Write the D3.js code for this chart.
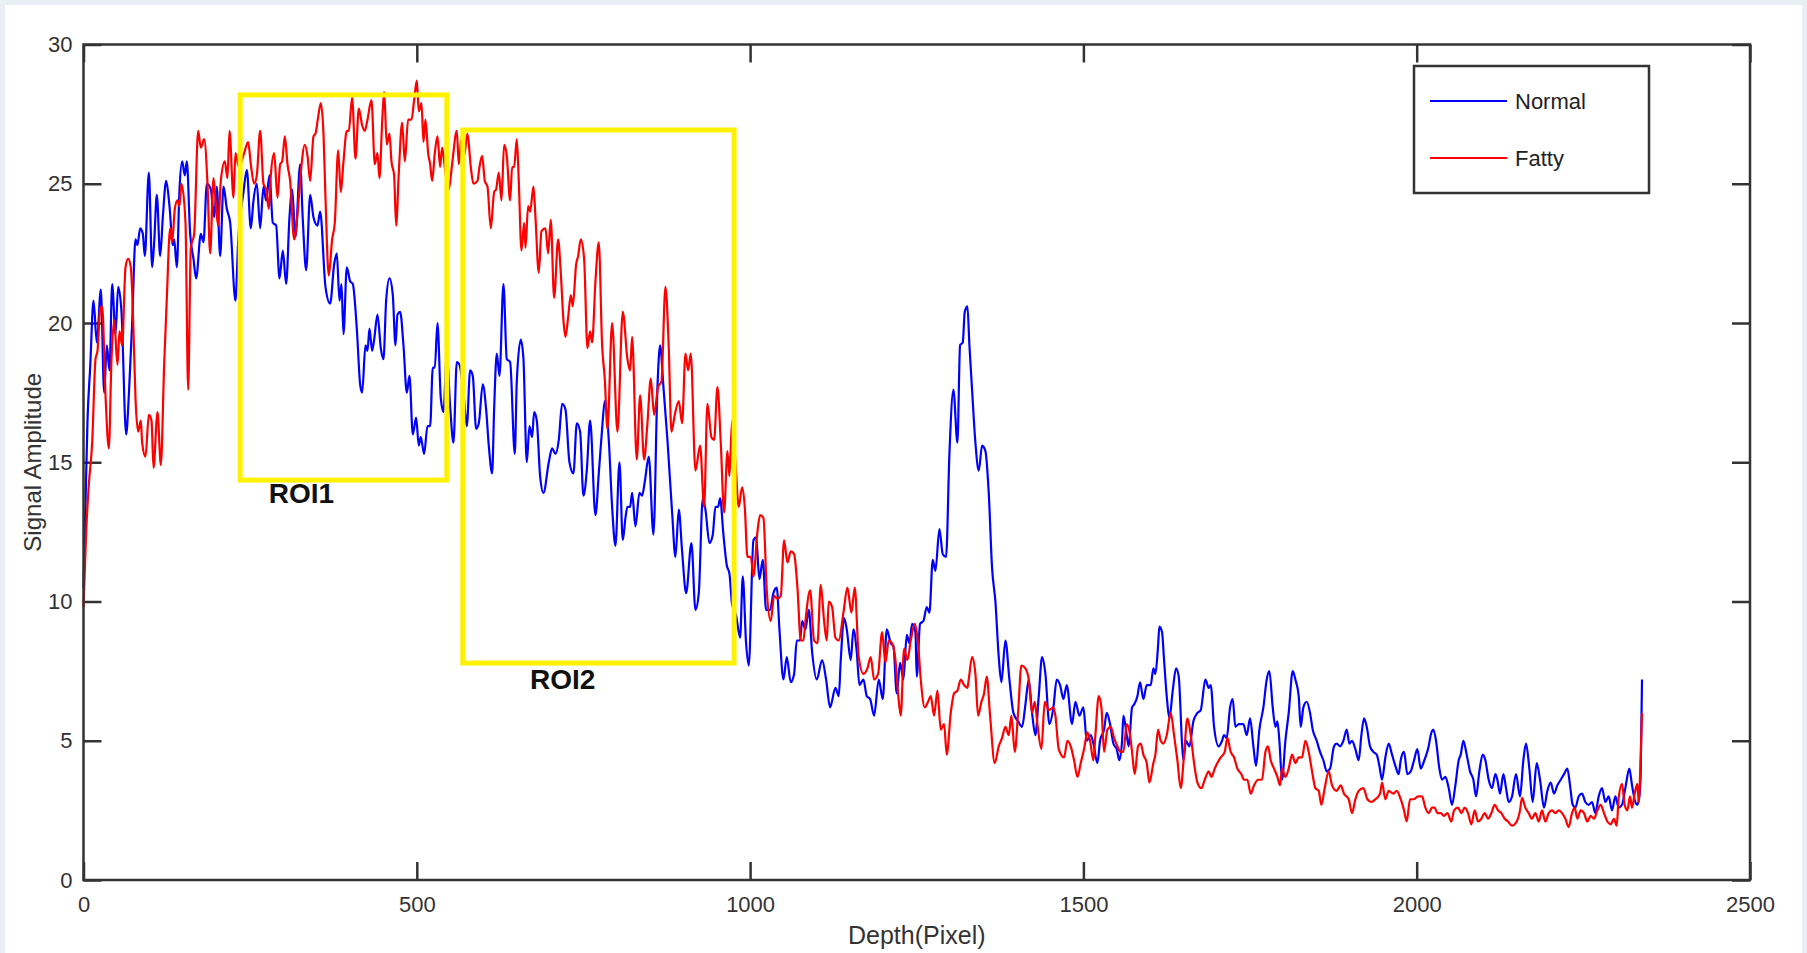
<!DOCTYPE html>
<html>
<head>
<meta charset="utf-8">
<title>Signal Amplitude vs Depth</title>
<script src="https://cdn.jsdelivr.net/npm/d3@7"></script>
<style>
    body { margin: 0; background: #fff; }
    #chart-area { width: 1807px; height: 953px; }
    .tick text { font-family: "Liberation Sans", Arial, sans-serif; font-size: 22px; fill: #333; }
    .axis-title { font-family: "Liberation Sans", Arial, sans-serif; fill: #333; }
    .legend-text { font-family: "Liberation Sans", Arial, sans-serif; font-size: 22px; fill: #222; }
    .roi-label { font-family: "Liberation Sans", Arial, sans-serif; font-size: 28px; font-weight: bold; fill: #111; }
</style>
</head>
<body>
<div id="chart-area"></div>
<script>

// axis ticks
const xTicks = [0, 500, 1000, 1500, 2000, 2500];
const yTicks = [0, 5, 10, 15, 20, 25, 30];

// series, [depth, amplitude]
const seriesNames = ["Normal", "Fatty"];

const normalSignal = [[0,10.5],[3,13.5],[6,16.5],[10,18.4],[15,20.8],[20,19.3],[26,21.2],[31,17.5],[35,19.2],[39,18.3],[43,21.4],[48,19.6],[52,21.3],[57,20.4],[64,16.0],[68,17.4],[73,20.0],[78,23.0],[81,22.8],[85,23.4],[89,23.2],[92,22.4],[98,25.4],[103,22.0],[106,22.9],[110,24.6],[115,22.4],[119,23.8],[124,25.1],[129,24.2],[134,22.8],[136,23.0],[140,22.0],[144,24.8],[148,25.8],[152,25.3],[155,25.8],[160,23.2],[165,22.3],[169,21.6],[176,23.2],[180,22.9],[185,25.0],[191,24.8],[196,23.8],[200,24.9],[205,22.4],[210,24.9],[215,24.1],[220,23.6],[228,20.8],[232,22.9],[240,24.7],[245,25.5],[251,23.4],[255,24.4],[260,25.0],[265,23.4],[270,24.9],[274,24.4],[279,25.3],[284,23.6],[289,23.5],[294,21.6],[299,22.6],[304,21.4],[309,23.8],[313,24.8],[318,23.1],[325,25.7],[329,23.7],[334,21.9],[340,24.6],[345,23.8],[351,23.5],[355,24.0],[363,21.3],[370,20.7],[376,22.1],[380,22.5],[384,20.8],[387,21.4],[390,19.6],[395,22.0],[400,21.5],[404,21.4],[410,19.8],[415,17.8],[418,17.5],[423,19.2],[426,19.0],[429,19.8],[433,19.0],[436,19.4],[441,20.3],[446,19.1],[450,18.7],[454,20.8],[459,21.6],[464,21.0],[468,19.2],[471,20.3],[475,20.4],[480,19.2],[485,17.5],[489,18.1],[494,16.0],[499,16.6],[503,15.6],[506,15.9],[511,15.3],[516,16.3],[520,16.3],[524,18.4],[527,18.4],[531,20.0],[536,17.3],[540,16.8],[545,18.9],[550,17.0],[555,15.7],[560,18.6],[564,18.5],[570,17.5],[575,16.3],[580,18.3],[584,18.1],[589,16.2],[593,16.4],[599,17.8],[604,16.9],[608,15.6],[613,14.6],[616,16.9],[620,18.9],[624,18.1],[630,21.4],[635,18.7],[640,18.6],[647,15.3],[650,17.9],[656,19.4],[660,18.7],[665,15.0],[669,16.3],[673,15.9],[676,16.8],[680,16.5],[685,14.5],[690,13.9],[698,15.0],[703,15.5],[708,15.3],[713,15.8],[718,17.1],[723,16.9],[729,15.0],[735,14.6],[740,16.4],[745,16.1],[750,13.8],[755,14.7],[760,16.5],[768,13.1],[773,14.6],[778,16.2],[782,17.2],[788,15.8],[793,13.4],[798,12.0],[804,15.0],[809,12.2],[813,13.0],[816,13.4],[820,13.4],[823,13.9],[828,12.7],[834,13.9],[838,13.8],[842,14.3],[848,15.2],[855,12.4],[861,17.7],[865,19.2],[870,17.7],[876,15.8],[883,13.2],[888,11.6],[893,13.3],[898,11.8],[904,10.3],[912,12.1],[918,9.7],[923,10.3],[929,13.7],[933,13.3],[939,12.1],[944,12.4],[948,13.4],[952,13.4],[955,13.7],[960,12.4],[965,11.3],[969,11.0],[973,9.9],[979,9.5],[985,8.7],[989,10.9],[994,8.5],[998,7.7],[1005,12.2],[1009,12.3],[1014,10.8],[1019,11.5],[1024,9.7],[1030,9.7],[1035,10.3],[1040,10.5],[1044,9.0],[1050,7.2],[1055,8.0],[1061,7.1],[1066,7.4],[1070,8.6],[1075,8.6],[1078,9.3],[1083,9.0],[1088,9.7],[1093,8.2],[1100,7.2],[1108,7.9],[1114,7.2],[1120,6.2],[1128,6.9],[1133,6.6],[1136,7.9],[1141,9.4],[1145,9.0],[1151,7.9],[1155,9.0],[1160,8.2],[1164,7.0],[1170,7.2],[1175,6.6],[1180,6.5],[1186,5.9],[1193,7.2],[1199,6.5],[1205,9.0],[1211,8.5],[1215,8.4],[1220,6.7],[1225,7.8],[1230,7.2],[1235,8.8],[1239,8.5],[1243,9.2],[1248,8.9],[1250,7.3],[1255,9.2],[1260,9.3],[1265,9.8],[1269,9.6],[1274,11.5],[1278,11.1],[1284,12.6],[1289,11.7],[1294,11.6],[1299,15.3],[1305,17.6],[1311,15.7],[1315,19.2],[1319,19.3],[1322,20.4],[1326,20.6],[1329,19.2],[1333,17.6],[1338,15.7],[1343,14.7],[1348,15.6],[1353,15.4],[1358,13.9],[1363,11.2],[1368,10.0],[1373,8.0],[1377,7.1],[1383,8.6],[1389,7.2],[1395,6.0],[1402,5.7],[1408,5.5],[1413,6.3],[1418,7.2],[1423,6.0],[1428,5.2],[1433,6.6],[1438,8.0],[1443,7.4],[1449,5.6],[1455,6.2],[1460,7.2],[1465,7.0],[1470,6.5],[1475,7.0],[1483,5.6],[1488,6.4],[1494,5.9],[1500,6.2],[1505,5.0],[1511,5.2],[1515,4.9],[1521,4.2],[1525,5.0],[1531,5.4],[1535,6.0],[1540,5.6],[1545,4.9],[1550,4.7],[1554,4.3],[1558,5.0],[1560,5.9],[1565,5.2],[1568,4.8],[1573,6.2],[1576,6.3],[1581,6.6],[1585,7.1],[1590,6.5],[1595,7.0],[1601,7.0],[1605,7.6],[1608,7.4],[1612,8.4],[1614,9.1],[1618,8.9],[1621,7.9],[1625,6.6],[1629,5.8],[1634,6.8],[1639,7.6],[1643,7.3],[1648,4.9],[1650,4.3],[1654,5.0],[1659,4.8],[1665,5.7],[1671,6.0],[1676,6.1],[1683,7.2],[1688,6.9],[1691,7.0],[1696,5.5],[1703,4.8],[1708,5.0],[1711,5.2],[1715,5.1],[1720,6.2],[1724,6.5],[1728,5.5],[1733,5.6],[1740,5.6],[1745,5.2],[1750,5.8],[1755,4.8],[1759,4.1],[1764,5.4],[1770,6.2],[1775,7.2],[1779,7.5],[1784,6.2],[1788,5.5],[1791,5.7],[1794,5.0],[1798,3.6],[1803,5.0],[1808,6.0],[1814,7.5],[1818,7.2],[1823,6.6],[1826,5.5],[1830,6.2],[1835,6.4],[1840,6.0],[1844,5.4],[1850,5.0],[1855,4.6],[1860,4.3],[1865,3.9],[1870,4.0],[1876,4.8],[1880,4.9],[1885,4.8],[1890,5.0],[1895,5.4],[1899,4.9],[1903,5.0],[1908,4.7],[1913,4.3],[1917,5.2],[1921,5.8],[1925,5.5],[1930,4.8],[1935,4.6],[1940,4.5],[1944,4.1],[1948,3.6],[1953,4.4],[1958,4.9],[1963,4.5],[1968,4.1],[1973,3.8],[1976,4.3],[1981,4.6],[1986,3.8],[1991,3.9],[1996,4.3],[2001,4.7],[2006,4.0],[2010,4.2],[2013,4.4],[2018,4.8],[2021,5.2],[2025,5.4],[2029,5.0],[2034,4.0],[2038,3.6],[2043,3.7],[2048,3.3],[2053,2.7],[2058,3.4],[2063,4.3],[2066,4.5],[2070,5.0],[2075,4.5],[2080,3.9],[2085,3.6],[2089,3.0],[2094,3.9],[2099,4.5],[2103,4.3],[2108,3.6],[2113,3.3],[2118,3.8],[2121,3.6],[2125,3.1],[2130,3.8],[2134,3.3],[2138,2.8],[2143,3.0],[2149,3.8],[2155,3.0],[2160,4.3],[2164,4.9],[2169,4.0],[2174,2.8],[2180,4.2],[2185,3.6],[2191,2.6],[2196,3.2],[2201,3.5],[2206,3.1],[2211,3.4],[2216,3.6],[2221,3.8],[2226,4.0],[2230,3.4],[2234,2.7],[2238,2.6],[2243,3.0],[2248,3.1],[2253,2.8],[2258,2.7],[2263,2.8],[2268,2.4],[2273,3.0],[2278,3.3],[2283,2.8],[2288,3.0],[2293,2.5],[2298,3.0],[2303,2.6],[2308,2.7],[2313,3.3],[2319,4.0],[2323,3.4],[2328,2.8],[2331,2.7],[2334,3.0],[2336,3.8],[2338,7.2]];

const fattySignal = [[0,9.8],[4,12.5],[8,14.2],[13,15.7],[18,18.7],[21,19.0],[25,20.5],[28,20.6],[33,17.4],[38,15.5],[42,18.7],[46,20.1],[51,18.5],[54,19.7],[58,19.2],[63,22.0],[67,22.3],[71,22.0],[75,19.7],[78,17.3],[82,16.1],[86,16.5],[88,15.7],[93,15.2],[98,16.7],[102,16.5],[105,14.8],[111,16.8],[116,14.9],[121,18.5],[125,20.9],[130,23.4],[133,22.9],[137,24.1],[141,24.4],[144,24.2],[147,25.0],[153,23.6],[157,17.6],[161,22.7],[166,23.2],[172,26.9],[176,26.3],[181,26.6],[186,25.0],[190,22.5],[195,25.2],[198,24.4],[202,23.5],[206,25.1],[212,25.8],[216,25.2],[219,26.9],[225,24.5],[228,26.1],[233,25.6],[241,26.1],[247,26.5],[251,25.7],[256,25.0],[260,25.3],[265,26.9],[270,25.0],[274,24.8],[278,24.1],[281,25.3],[286,26.1],[291,24.5],[295,25.7],[298,25.8],[302,26.7],[306,25.7],[310,25.1],[316,23.0],[321,23.9],[326,25.4],[332,26.4],[336,26.0],[340,25.1],[345,26.7],[348,26.8],[352,27.4],[356,27.9],[360,26.8],[363,24.5],[368,21.7],[373,23.0],[377,23.6],[382,26.2],[386,24.7],[390,25.8],[395,26.9],[398,26.9],[403,28.1],[408,25.9],[413,27.7],[418,27.1],[422,26.9],[426,27.3],[432,28.0],[437,25.7],[441,26.1],[444,25.2],[448,27.2],[451,28.3],[455,26.4],[459,26.8],[462,25.8],[466,25.3],[469,23.5],[473,25.4],[478,27.2],[482,25.8],[487,27.3],[492,27.3],[496,28.0],[500,28.7],[503,27.6],[507,27.9],[510,26.5],[513,27.3],[517,26.1],[520,25.7],[523,25.1],[527,26.1],[531,26.7],[535,25.6],[538,26.3],[543,25.4],[548,24.8],[553,25.7],[560,26.9],[563,25.7],[567,26.6],[571,26.0],[576,26.8],[581,25.6],[585,25.0],[591,25.1],[594,25.6],[598,26.0],[602,25.1],[606,24.9],[611,23.4],[616,24.7],[619,24.8],[623,25.4],[627,24.4],[631,26.4],[635,26.0],[640,24.4],[643,25.6],[646,25.6],[650,26.6],[653,25.1],[657,22.6],[661,23.6],[663,22.7],[667,24.2],[670,24.0],[675,24.9],[678,23.8],[683,21.8],[687,23.3],[693,23.4],[697,22.5],[701,23.7],[706,20.9],[712,23.0],[716,21.8],[720,20.1],[723,19.5],[727,20.2],[731,21.0],[734,20.6],[739,22.1],[742,22.4],[746,23.0],[751,22.3],[756,19.1],[760,19.7],[763,19.3],[768,21.5],[773,22.9],[778,19.2],[782,18.0],[786,16.2],[793,20.0],[801,16.1],[809,20.4],[816,18.7],[820,18.3],[823,19.5],[830,15.1],[835,17.4],[841,15.1],[846,16.4],[851,18.0],[856,16.7],[862,17.7],[867,17.9],[873,21.3],[878,19.1],[882,16.1],[887,16.7],[893,17.2],[898,16.4],[903,18.9],[907,18.3],[911,18.9],[918,14.7],[925,15.6],[931,13.4],[936,17.1],[942,15.9],[946,15.8],[951,17.7],[956,15.7],[961,13.2],[966,15.4],[969,14.5],[973,16.5],[978,15.0],[983,13.4],[988,14.1],[992,13.4],[996,11.6],[1001,11.6],[1005,10.9],[1011,12.5],[1015,13.1],[1020,13.0],[1025,10.4],[1031,9.3],[1036,10.2],[1041,10.1],[1046,10.2],[1051,12.2],[1056,11.4],[1061,11.8],[1066,11.7],[1071,10.5],[1076,8.6],[1080,8.6],[1083,9.3],[1090,10.4],[1096,8.6],[1101,8.5],[1106,10.6],[1111,9.3],[1115,8.6],[1118,10.0],[1123,9.8],[1128,8.7],[1133,8.6],[1140,9.6],[1146,10.5],[1152,9.6],[1157,10.5],[1163,8.0],[1170,7.4],[1176,7.6],[1181,8.0],[1186,7.2],[1192,7.4],[1198,8.9],[1203,7.8],[1208,8.6],[1213,8.5],[1218,7.9],[1222,6.7],[1226,5.9],[1231,8.3],[1236,7.9],[1241,8.6],[1247,9.2],[1252,8.5],[1256,7.2],[1262,6.2],[1267,6.4],[1271,6.6],[1276,5.9],[1281,6.8],[1286,5.4],[1291,5.6],[1295,4.5],[1301,6.0],[1306,6.7],[1311,6.8],[1316,7.2],[1321,7.0],[1326,6.9],[1328,7.2],[1333,8.0],[1338,7.4],[1342,5.9],[1347,6.4],[1351,6.7],[1355,7.3],[1360,5.9],[1367,4.2],[1373,4.8],[1378,5.1],[1383,5.5],[1388,5.2],[1392,5.9],[1397,4.6],[1402,6.0],[1407,7.7],[1413,7.6],[1418,7.2],[1423,6.0],[1427,6.4],[1431,5.6],[1437,4.7],[1442,6.4],[1448,6.1],[1455,6.2],[1458,5.9],[1463,4.7],[1471,4.4],[1476,5.0],[1481,4.8],[1486,4.3],[1491,3.7],[1496,4.2],[1501,4.7],[1506,5.3],[1510,5.0],[1515,4.3],[1518,5.2],[1523,6.6],[1527,6.2],[1531,4.6],[1536,5.4],[1541,5.5],[1546,5.1],[1551,4.8],[1556,4.6],[1560,4.6],[1565,5.6],[1570,5.2],[1573,4.6],[1577,3.8],[1582,4.8],[1586,4.9],[1590,4.5],[1595,4.2],[1599,3.5],[1605,4.2],[1608,4.5],[1612,5.4],[1616,5.0],[1620,4.9],[1625,5.2],[1631,6.0],[1636,5.2],[1641,4.3],[1646,3.3],[1651,4.5],[1656,5.8],[1661,5.2],[1666,4.2],[1671,3.5],[1677,3.3],[1682,3.6],[1688,3.9],[1692,3.7],[1697,4.0],[1701,4.2],[1706,4.4],[1712,4.6],[1716,5.1],[1721,4.6],[1726,4.4],[1731,4.0],[1737,3.8],[1741,3.6],[1746,3.6],[1751,3.1],[1756,3.4],[1762,3.6],[1768,3.6],[1773,4.6],[1777,4.8],[1781,4.3],[1786,4.0],[1791,3.7],[1795,3.4],[1798,4.0],[1803,3.7],[1808,4.0],[1813,4.5],[1818,4.2],[1823,4.4],[1828,4.4],[1833,5.0],[1838,4.6],[1843,3.9],[1848,3.3],[1853,3.2],[1857,2.7],[1862,3.3],[1868,3.9],[1873,3.4],[1880,3.2],[1886,3.4],[1891,3.1],[1898,2.9],[1903,2.4],[1908,2.9],[1913,3.2],[1920,3.3],[1926,2.9],[1932,2.8],[1938,2.9],[1945,3.1],[1948,3.5],[1953,2.9],[1958,3.2],[1965,3.1],[1970,3.2],[1976,2.9],[1981,2.5],[1985,2.1],[1990,2.9],[1996,2.9],[2002,3.0],[2008,3.0],[2013,2.6],[2018,2.4],[2023,2.6],[2027,2.6],[2031,2.4],[2036,2.4],[2041,2.3],[2046,2.4],[2052,2.1],[2056,2.5],[2062,2.6],[2067,2.4],[2072,2.6],[2077,2.4],[2082,2.0],[2087,2.5],[2092,2.1],[2097,2.2],[2102,2.4],[2107,2.2],[2112,2.4],[2117,2.7],[2122,2.5],[2127,2.4],[2132,2.2],[2137,2.1],[2143,1.95],[2150,2.1],[2155,2.5],[2158,2.95],[2163,2.6],[2168,2.4],[2173,2.2],[2178,2.4],[2183,2.1],[2188,2.5],[2193,2.1],[2198,2.4],[2203,2.5],[2208,2.4],[2213,2.5],[2218,2.4],[2223,2.2],[2228,1.9],[2233,2.4],[2237,2.6],[2241,2.2],[2246,2.5],[2251,2.4],[2256,2.1],[2261,2.3],[2266,2.2],[2271,2.5],[2276,2.7],[2281,2.4],[2286,2.1],[2291,2.0],[2296,2.2],[2300,1.95],[2303,2.95],[2308,3.45],[2312,2.7],[2316,2.5],[2320,3.0],[2323,2.6],[2327,3.1],[2331,3.45],[2333,2.8],[2336,4.4],[2338,6.0]];

// regions of interest, in data units
const roiNames = ["ROI1", "ROI2"];
const roiDepth = [[235, 545], [569, 976]];
const roiAmp = [[14.36, 28.19], [7.79, 26.93]];
const roiLabelDepth = [327, 719];
const roiLabelAmp = [13.55, 6.85];


class SignalVis {

    constructor(parentElement, seriesData) {
        this.parentElement = parentElement;
        this.seriesData = seriesData;
        this.initVis();
    }

    initVis() {
        let vis = this;

        vis.margin = {top: 44.5, right: 57, bottom: 73, left: 83.5};
        vis.width = 1807 - vis.margin.left - vis.margin.right;
        vis.height = 953 - vis.margin.top - vis.margin.bottom;

        vis.colors = {Normal: "#0000ff", Fatty: "#ff0000"};

        vis.root = d3.select("#" + vis.parentElement).append("svg")
            .attr("width", 1807)
            .attr("height", 953);

        // light frame round the figure (top, left, right)
        vis.root.append("rect").attr("x", 0).attr("y", 0).attr("width", 1807).attr("height", 5).attr("fill", "#e9eff4");
        vis.root.append("rect").attr("x", 0).attr("y", 0).attr("width", 5).attr("height", 953).attr("fill", "#e9eff4");
        vis.root.append("rect").attr("x", 1802).attr("y", 0).attr("width", 5).attr("height", 953).attr("fill", "#e9eff4");

        vis.svg = vis.root.append("g")
            .attr("transform", "translate(" + vis.margin.left + "," + vis.margin.top + ")");

        vis.x = d3.scaleLinear().domain([0, 2500]).range([0, vis.width]);
        vis.y = d3.scaleLinear().domain([0, 30]).range([vis.height, 0]);

        // axes, ticks pointing inward on all four sides
        vis.svg.append("g")
            .attr("class", "x-axis")
            .attr("transform", "translate(0," + vis.height + ")")
            .call(d3.axisBottom(vis.x).tickValues(xTicks).tickSize(-18).tickPadding(16).tickFormat(d3.format("d")));
        vis.svg.append("g")
            .attr("class", "x-axis-top")
            .call(d3.axisTop(vis.x).tickValues(xTicks).tickSize(-18).tickFormat(""));
        vis.svg.append("g")
            .attr("class", "y-axis")
            .call(d3.axisLeft(vis.y).tickValues(yTicks).tickSize(-18).tickPadding(11));
        vis.svg.append("g")
            .attr("class", "y-axis-right")
            .attr("transform", "translate(" + vis.width + ",0)")
            .call(d3.axisRight(vis.y).tickValues(yTicks).tickSize(-18).tickFormat(""));

        vis.svg.selectAll(".domain").remove();
        vis.svg.selectAll(".tick line").attr("stroke", "#333").attr("stroke-width", 2.5);
        vis.svg.selectAll(".tick text").attr("fill", "#333");

        // axis titles
        vis.svg.append("text")
            .attr("class", "axis-title")
            .attr("x", vis.width / 2)
            .attr("y", vis.height + 64)
            .attr("text-anchor", "middle")
            .style("font-size", "25px")
            .text("Depth(Pixel)");
        vis.svg.append("text")
            .attr("class", "axis-title")
            .attr("transform", "translate(" + (41 - vis.margin.left) + "," + (vis.height / 2) + ") rotate(-90)")
            .attr("text-anchor", "middle")
            .style("font-size", "24px")
            .text("Signal Amplitude");

        vis.lineGroup = vis.svg.append("g").attr("class", "lines");
        vis.roiGroup = vis.svg.append("g").attr("class", "rois");

        // box
        vis.svg.append("rect")
            .attr("width", vis.width)
            .attr("height", vis.height)
            .attr("fill", "none")
            .attr("stroke", "#333")
            .attr("stroke-width", 2.5);

        // legend
        vis.legend = vis.root.append("g").attr("transform", "translate(1414,66)");
        vis.legend.append("rect")
            .attr("width", 235)
            .attr("height", 127)
            .attr("fill", "#fff")
            .attr("stroke", "#333")
            .attr("stroke-width", 2.5);
        let entries = vis.legend.selectAll(".entry").data(seriesNames).enter().append("g")
            .attr("class", "entry")
            .attr("transform", (d, i) => "translate(0," + (35 + i * 57) + ")");
        entries.append("line")
            .attr("x1", 16).attr("x2", 93)
            .attr("stroke", d => vis.colors[d])
            .attr("stroke-width", 2);
        entries.append("text")
            .attr("class", "legend-text")
            .attr("x", 101)
            .attr("dy", "0.36em")
            .text(d => d);

        vis.wrangleData();
    }

    wrangleData() {
        let vis = this;

        vis.displayData = seriesNames.map((name, i) => ({name: name, values: vis.seriesData[i]}));
        vis.roiData = roiNames.map((name, i) => ({
            name: name, depth: roiDepth[i], amp: roiAmp[i],
            labelDepth: roiLabelDepth[i], labelAmp: roiLabelAmp[i]
        }));

        vis.updateVis();
    }

    updateVis() {
        let vis = this;

        let line = d3.line()
            .curve(d3.curveMonotoneX)
            .x(d => vis.x(d[0]))
            .y(d => vis.y(d[1]));

        vis.lineGroup.selectAll(".signal").data(vis.displayData).enter().append("path")
            .attr("class", "signal")
            .attr("d", d => line(d.values))
            .attr("fill", "none")
            .attr("stroke", d => vis.colors[d.name])
            .attr("stroke-width", 2.2)
            .attr("stroke-linejoin", "round");

        let roi = vis.roiGroup.selectAll(".roi").data(vis.roiData).enter().append("g").attr("class", "roi");
        roi.append("rect")
            .attr("x", d => vis.x(d.depth[0]))
            .attr("y", d => vis.y(d.amp[1]))
            .attr("width", d => vis.x(d.depth[1]) - vis.x(d.depth[0]))
            .attr("height", d => vis.y(d.amp[0]) - vis.y(d.amp[1]))
            .attr("fill", "none")
            .attr("stroke", "#fff200")
            .attr("stroke-width", 5);
        roi.append("text")
            .attr("class", "roi-label")
            .attr("x", d => vis.x(d.labelDepth))
            .attr("y", d => vis.y(d.labelAmp))
            .attr("text-anchor", "middle")
            .text(d => d.name);
    }
}

let signalVis = new SignalVis("chart-area", [normalSignal, fattySignal]);

</script>
</body>
</html>
